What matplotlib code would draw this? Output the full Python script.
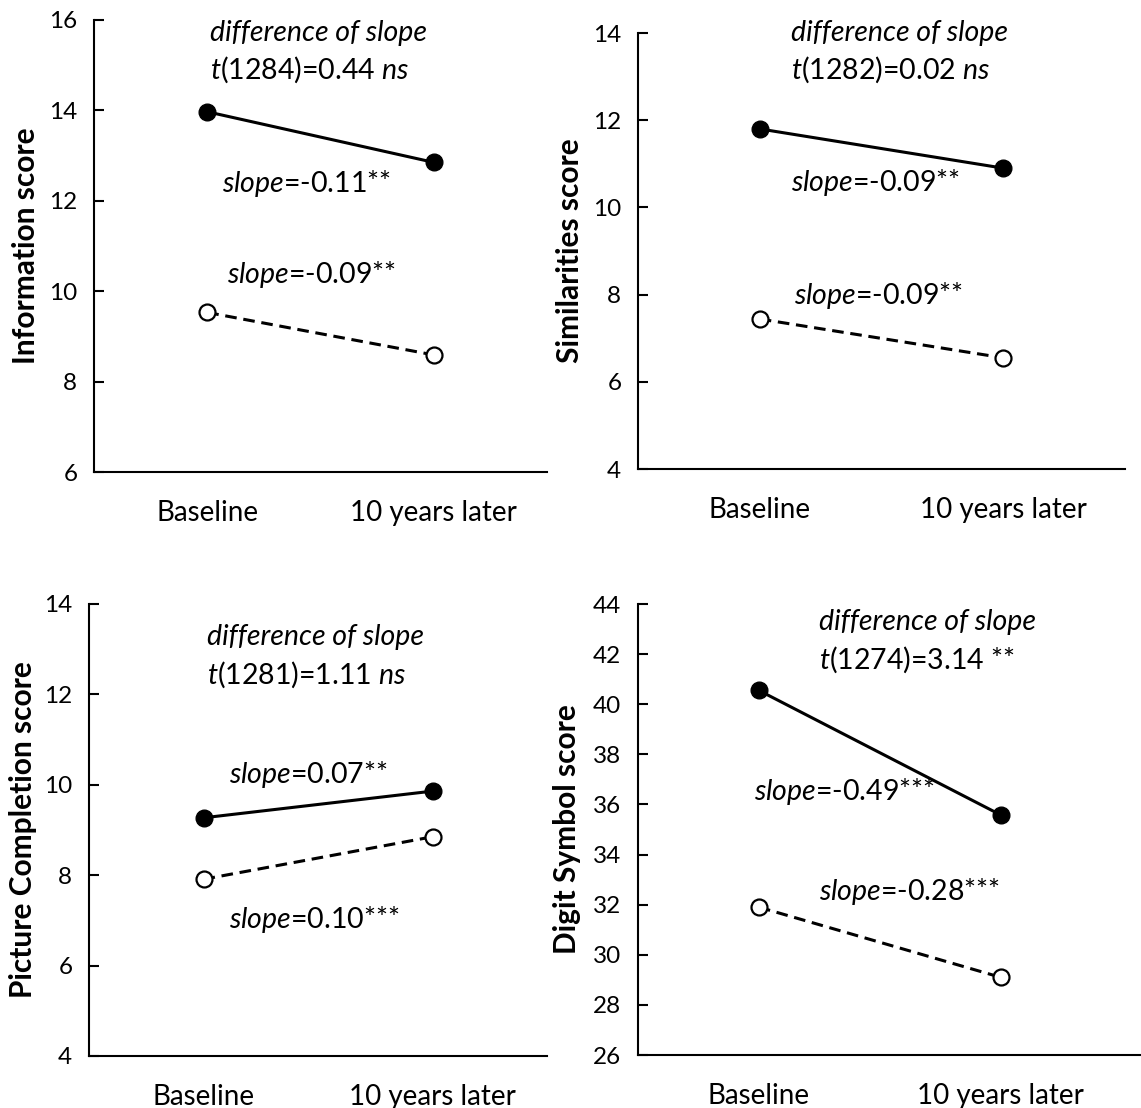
import matplotlib
matplotlib.use("Agg")
import matplotlib.pyplot as plt

plt.rcParams['font.family'] = ['Lato', 'DejaVu Sans']
plt.rcParams['mathtext.fontset'] = 'custom'
plt.rcParams['mathtext.rm'] = 'Lato'
plt.rcParams['mathtext.it'] = 'Lato:italic'

categories = ["Baseline", "10 years later"]

# Information
info_filled = [13.97, 12.85]
info_open = [9.53, 8.59]
# Similarities
sim_filled = [11.80, 10.90]
sim_open = [7.44, 6.55]
# Picture Completion
pc_filled = [9.27, 9.86]
pc_open = [7.91, 8.85]
# Digit Symbol
ds_filled = [40.55, 35.58]
ds_open = [31.90, 29.10]

ylabels = ["Information score", "Similarities score",
           "Picture Completion score", "Digit Symbol score"]
ylims = [(6, 16), (4, 14), (4, 14), (26, 44)]
ysteps = [2, 2, 2, 2]
diff_df = ["1284", "1282", "1281", "1274"]
diff_t = ["0.44", "0.02", "1.11", "3.14"]
diff_sig = ["ns", "ns", "ns", "**"]
slope_filled = ["-0.11**", "-0.09**", "0.07**", "-0.49***"]
slope_open = ["-0.09**", "-0.09**", "0.10***", "-0.28***"]

W, H = 1141, 1108
fig = plt.figure(figsize=(W / 100, H / 100), dpi=100)

# axes boxes in pixels: left, right, top, bottom
boxes = [(94, 547, 20, 472), (638, 1125, 33, 469),
         (89, 547, 604, 1056), (638, 1141, 604, 1055)]
label_x = [-0.12, -0.11, -0.113, -0.113]

diff_pos = [(0.013, 15.72, 14.9), (0.13, 14.0, 13.15), (0.017, 13.26, 12.43), (0.25, 43.27, 41.77)]
sf_pos = [(0.066, 12.38), (0.13, 10.57), (0.11, 10.22), (-0.02, 36.5)]
so_pos = [(0.088, 10.38), (0.14, 7.98), (0.11, 7.03), (0.25, 32.54)]

data = [(info_filled, info_open), (sim_filled, sim_open),
        (pc_filled, pc_open), (ds_filled, ds_open)]

fs_text = 20.5
for i in range(4):
    l, r, t, b = boxes[i]
    ax = fig.add_axes([l / W, 1 - b / H, (r - l) / W, (b - t) / H])
    filled, opn = data[i]
    x = [0, 1]
    ax.plot(x, filled, color='black', lw=2.2, marker='o', ms=12,
            mfc='black', mec='black', zorder=3)
    ax.plot(x, opn, color='black', lw=2.2, ls=(0, (3.8, 2.2)), marker='o', ms=11.5,
            mfc='white', mec='black', mew=1.6, zorder=3)
    ax.set_xlim(-0.5, 1.5 if i != 3 else 1.58)
    lo, hi = ylims[i]
    ax.set_ylim(lo, hi)
    ax.set_yticks(range(lo, hi + 1, ysteps[i]))
    ax.set_xticks(x)
    ax.set_xticklabels(categories)
    for s in ['top', 'right']:
        ax.spines[s].set_visible(False)
    for s in ['left', 'bottom']:
        ax.spines[s].set_linewidth(1.5)
    ax.tick_params(axis='y', direction='in', length=7, width=1.5, pad=12, labelsize=17.5)
    ax.tick_params(axis='x', length=0, pad=20, labelsize=20)
    ax.set_ylabel(ylabels[i], fontsize=21.5, fontweight='bold')
    ax.yaxis.set_label_coords(label_x[i], 0.5)

    dx, dy1, dy2 = diff_pos[i]
    ax.text(dx, dy1, "difference of slope", style='italic', fontsize=fs_text,
            ha='left', va='center')
    if diff_sig[i] == "ns":
        t_txt = "$t$(" + diff_df[i] + ")=" + diff_t[i] + " $ns$"
    else:
        t_txt = "$t$(" + diff_df[i] + ")=" + diff_t[i] + " " + diff_sig[i]
    ax.text(dx, dy2, t_txt, fontsize=fs_text, ha='left', va='center')
    ax.text(sf_pos[i][0], sf_pos[i][1], "$slope$=" + slope_filled[i],
            fontsize=fs_text, ha='left', va='center')
    ax.text(so_pos[i][0], so_pos[i][1], "$slope$=" + slope_open[i],
            fontsize=fs_text, ha='left', va='center')

fig.savefig("out.png", dpi=100, facecolor='white')
